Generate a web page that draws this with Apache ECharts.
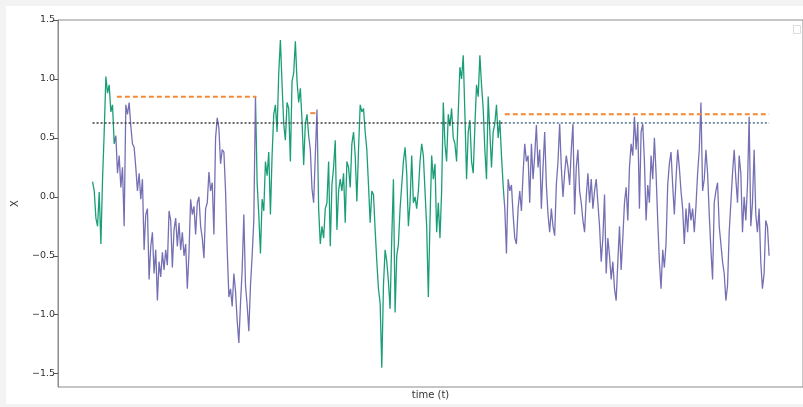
<!DOCTYPE html>
<html>
<head>
<meta charset="utf-8">
<script src="https://cdn.jsdelivr.net/npm/echarts@6/dist/echarts.min.js"></script>
<style>
  html, body { margin: 0; padding: 0; background: #f3f3f3; }
  #panel { position: absolute; left: 6px; top: 6px; width: 797px; height: 398px; background: #ffffff; }
  #c { position: absolute; left: 0; top: 0; width: 803px; height: 407px; }
</style>
</head>
<body>
<div id="panel"></div>
<div id="c"></div>
<script>
// ---- data ----
const segA = [
  0.13, 0.05, -0.18, -0.25, 0.04, -0.40, 0.15, 0.55, 1.02, 0.88,
  0.95, 0.72, 0.78, 0.45, 0.52, 0.20, 0.35, 0.08, 0.25, -0.25,
  0.78, 0.70, 0.80, 0.60, 0.45, 0.42, 0.25, 0.05, 0.20, -0.02,
  0.15, -0.45, -0.15, -0.10, -0.70, -0.42, -0.30, -0.65, -0.45, -0.88,
  -0.55, -0.68, -0.47, -0.62, -0.45, -0.58, -0.12, -0.20, -0.60, -0.28,
  -0.18, -0.42, -0.22, -0.45, -0.30, -0.50, -0.40, -0.78, -0.48, -0.02,
  -0.15, -0.08, -0.32, -0.05, 0.00, -0.25
];
const segB = [
  -0.35, -0.52, -0.10, -0.05, 0.21, 0.05, 0.12, -0.32, 0.50, 0.67,
  0.58, 0.28, 0.40, 0.38, 0.05, -0.45, -0.85, -0.78, -0.93, -0.65,
  -0.80, -1.05, -1.24, -0.90, -0.62, -0.15, -0.75, -0.92, -1.14, -0.75,
  -0.50, -0.20, 0.85, 0.12, -0.15, -0.48, -0.02, -0.12, 0.30, 0.18,
  0.38, -0.15, 0.35, 0.70, 0.78, 0.55, 1.05, 1.33, 0.95, 0.62,
  0.48, 0.80, 0.75, 0.30, 0.98, 1.05, 1.32, 0.98, 0.80, 0.92,
  0.65, 0.27, 0.62, 0.70, 0.52, 0.40, 0.07, -0.05
];
const segC = [
  0.35, 0.74, -0.10, -0.40, -0.25, -0.35, -0.10, -0.05, 0.30, -0.42,
  0.10, 0.25, 0.48, -0.28, 0.05, 0.15, 0.05, 0.20, -0.22, 0.30,
  0.25, 0.08, 0.45, 0.55, 0.35, -0.04, 0.40, 0.78, 0.72, 0.75,
  0.55, 0.40, 0.10, -0.22, 0.05, 0.02, -0.28, -0.55, -0.78, -0.90,
  -1.45, -0.75, -0.45, -0.55, -0.72, -0.95, -0.35, 0.15, -0.98, -0.50,
  -0.40, -0.10, 0.10, 0.30, 0.42, 0.20, -0.25, -0.05, 0.35, -0.05,
  0.00, -0.10, 0.05, 0.30, 0.45, 0.35, 0.05, -0.25, -0.85
];
const segD = [
  -0.20, 0.35, 0.15, 0.28, -0.30, -0.05, -0.35, 0.05, 0.80, 0.45,
  0.30, 0.70, 0.60, 0.75, 0.50, 0.45, 0.30, 0.72, 1.10, 1.00,
  1.20, 0.70, 0.15, 0.55, 0.65, 0.30, 0.20, 0.60, 0.95, 0.85,
  1.20, 0.95, 0.75, 0.40, 0.15, 0.85, 0.55, 0.25, 0.55, 0.62,
  0.78, 0.50, 0.65, 0.35, 0.10, -0.10, -0.48, 0.15, 0.05, 0.10,
  -0.15, -0.35, -0.40, -0.10, 0.05, -0.12, 0.20, 0.45, 0.30, 0.35,
  -0.05, 0.45, 0.15, 0.35, 0.61, 0.25, 0.40, -0.10
];
const segE = [
  0.25, 0.55, 0.10, -0.15, -0.30, -0.10, -0.25, -0.33, 0.10, 0.30,
  0.62, 0.25, 0.00, 0.20, 0.35, 0.25, 0.10, 0.40, 0.62, -0.15,
  0.25, 0.40, 0.05, -0.05, -0.20, -0.30, 0.00, 0.20, -0.05, 0.15,
  -0.10, 0.05, 0.15, -0.05, -0.25, -0.55, -0.35, 0.02, -0.65, -0.35,
  -0.50, -0.70, -0.55, -0.78, -0.88, -0.55, -0.25, -0.62, -0.35, -0.05,
  0.08, -0.20, 0.25, 0.45, 0.35, 0.68, 0.40, 0.62, -0.10, 0.55,
  0.62, 0.30, -0.20, 0.10, -0.05, 0.35, 0.15, 0.50
];
const segF = [
  0.20, -0.20, -0.55, -0.78, -0.45, -0.60, -0.40, 0.10, 0.28, 0.38,
  0.10, -0.15, 0.15, 0.40, 0.25, 0.05, -0.10, -0.40, -0.10, -0.30,
  -0.05, -0.20, -0.10, -0.30, -0.08, 0.20, 0.40, 0.80, 0.05, 0.15,
  0.40, 0.20, -0.15, -0.45, -0.70, -0.05, 0.05, 0.12, -0.25, -0.40,
  -0.55, -0.65, -0.88, -0.75, -0.30, -0.05, 0.20, 0.40, 0.15, -0.05,
  0.35, 0.20, -0.30, 0.00, -0.20, 0.10, 0.68, -0.25, -0.05, 0.40,
  -0.15, -0.30, -0.10, -0.55, -0.78, -0.65, -0.20, -0.25, -0.50
];

// regime switch points (time index) and regime kinds
const regimeBreaks = [13.5, 98.5, 130.5, 135.5, 247.5];
const regimeKinds = ['A', 'B', 'A', 'B', 'A', 'B'];

// thresholds drawn over the "B" regimes
const thresholdStarts = [14.6, 131, 248];
const thresholdEnds = [98.6, 135, 407];
const thresholdLevels = [0.85, 0.71, 0.70];

// long-run reference level (dotted)
const refLevel = 0.627;
const refStarts = [0, 248];
const refEnds = [248, 407];

const yTicks = [-1.5, -1.0, -0.5, 0.0, 0.5, 1.0, 1.5];

// ---- build ----
const values = [].concat(segA, segB, segC, segD, segE, segF);
const seriesData = values.map((v, i) => [i, v]);

const GREEN = '#1b9e77';
const PURPLE = '#7570b3';
const kindColor = { A: GREEN, B: PURPLE };

const pieces = [];
for (let k = 0; k < regimeKinds.length; k++) {
  const p = { color: kindColor[regimeKinds[k]] };
  if (k > 0) p.gte = regimeBreaks[k - 1];
  if (k < regimeBreaks.length) p.lt = regimeBreaks[k];
  pieces.push(p);
}

const series = [{
  type: 'line',
  data: seriesData,
  showSymbol: false,
  symbol: 'none',
  lineStyle: { width: 1.3 },
  z: 3,
  silent: true,
  animation: false
}];

thresholdLevels.forEach((lv, k) => {
  series.push({
    type: 'line',
    data: [[thresholdStarts[k], lv], [thresholdEnds[k], lv]],
    symbol: 'none',
    lineStyle: { color: '#f28a3a', width: 2, type: [5, 3] },
    z: 4,
    silent: true,
    animation: false
  });
});

const refColors = ['#3a3a3a', '#4f6f8c'];
refStarts.forEach((s, k) => {
  series.push({
    type: 'line',
    data: [[s, refLevel], [refEnds[k], refLevel]],
    symbol: 'none',
    lineStyle: { color: refColors[k], width: 1.5, type: [2, 2] },
    z: 5,
    silent: true,
    animation: false
  });
});

const chart = echarts.init(document.getElementById('c'), null, { renderer: 'canvas' });
const fmt = v => (Math.abs(v) < 1e-9 ? '0.0' : v.toFixed(1).replace('-', '\u2212'));

chart.setOption({
  animation: false,
  textStyle: { fontFamily: 'DejaVu Sans' },
  grid: {
    left: 58, top: 20, right: -2, bottom: 20,
    show: true, borderColor: '#8c8c8c', borderWidth: 1, backgroundColor: '#ffffff'
  },
  xAxis: {
    type: 'value',
    min: -20.8, max: 427.4,
    axisLine: { show: false, onZero: false },
    axisTick: { show: false },
    axisLabel: { show: false },
    splitLine: { show: false },
    name: 'time (t)',
    nameLocation: 'middle',
    nameGap: 3,
    nameTextStyle: { fontSize: 10, color: '#333', fontFamily: 'DejaVu Sans', verticalAlign: 'top' }
  },
  yAxis: {
    type: 'value',
    min: -1.613, max: 1.5,
    axisLine: { show: true, onZero: false, lineStyle: { color: '#8c8c8c' } },
    axisTick: { show: true, length: 4, lineStyle: { color: '#555' }, customValues: yTicks },
    axisLabel: { color: '#333', fontSize: 9.5, margin: 3, customValues: yTicks, formatter: fmt, fontFamily: 'DejaVu Sans' },
    splitLine: { show: false },
    name: 'X',
    nameLocation: 'middle',
    nameGap: 38,
    nameRotate: 90,
    nameTextStyle: { fontSize: 10, color: '#333', fontFamily: 'DejaVu Sans' }
  },
  visualMap: {
    type: 'piecewise',
    show: false,
    dimension: 0,
    seriesIndex: 0,
    pieces: pieces
  },
  graphic: [{
    type: 'rect',
    left: 793, top: 25,
    shape: { width: 7, height: 8 },
    style: { fill: '#ffffff', stroke: '#dddddd', lineWidth: 1 },
    silent: true
  }],
  series: series
});
</script>
</body>
</html>
